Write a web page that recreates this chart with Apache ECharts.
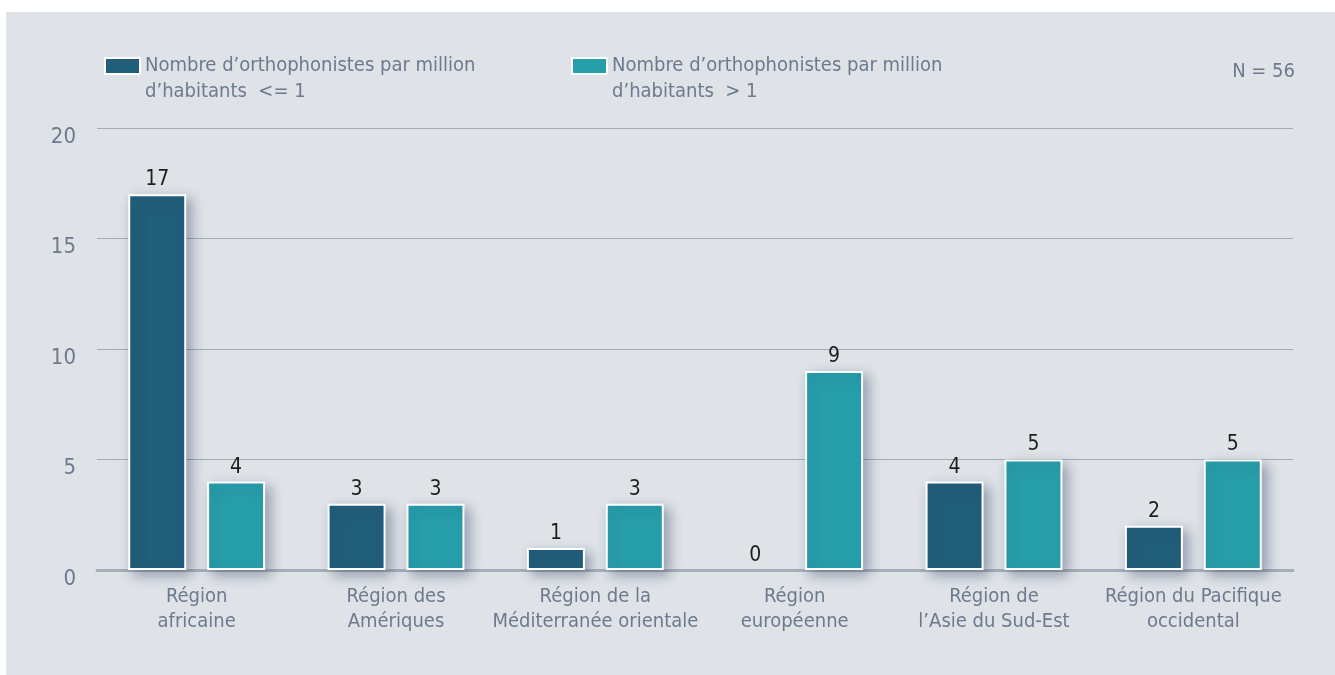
<!DOCTYPE html>
<html>
<head>
<meta charset="utf-8">
<script src="https://cdn.jsdelivr.net/npm/echarts@6/dist/echarts.min.js"></script>
<style>
  html, body { margin: 0; padding: 0; background: #fff; }
  #chart { width: 1335px; height: 675px; }
</style>
</head>
<body>
<div id="chart"></div>
<script>
// regions (x axis)
const regions = [
  'Région\nafricaine',
  'Région des\nAmériques',
  'Région de la\nMéditerranée orientale',
  'Région\neuropéenne',
  'Région de\nl’Asie du Sud-Est',
  'Région du Pacifique\noccidental'
]
// series values
const lowValues = [17, 3, 1, 0, 4, 2]
const highValues = [4, 3, 3, 9, 5, 5]
const seriesNames = [
  'Nombre d’orthophonistes par million\nd’habitants  <= 1',
  'Nombre d’orthophonistes par million\nd’habitants  > 1'
]
const yTicks = [0, 5, 10, 15, 20]
const noteText = 'N = 56'

const font = '"DejaVu Sans Condensed", "Liberation Sans Narrow", sans-serif'
const grayText = '#6d7a8d'
const colors = ['#215e7a', '#279fab']

var myChart = echarts.init(document.getElementById('chart'))

const barStyle = (c) => ({
  color: c,
  borderColor: '#ffffff',
  borderWidth: 2,
  shadowBlur: 12,
  shadowColor: 'rgba(40, 55, 90, 0.4)',
  shadowOffsetX: 5,
  shadowOffsetY: 5
})

// no white outline on empty bars
const toData = (arr) => arr.map(v => v === 0 ? { value: v, itemStyle: { borderWidth: 0, shadowBlur: 0 } } : v)

const valueLabel = {
  show: true,
  position: 'top',
  distance: 4,
  fontFamily: font,
  fontSize: 21,
  color: '#1e1e1e'
}

const legendBase = {
  top: 27,
  padding: 0,
  itemWidth: 35,
  itemHeight: 16,
  icon: 'rect',
  itemStyle: { borderColor: '#ffffff', borderWidth: 2 },
  // blank first line keeps the icon level with the first text line
  formatter: (name) => ' \n' + name,
  textStyle: {
    fontFamily: font,
    fontSize: 20,
    color: grayText,
    lineHeight: 26
  },
  selectedMode: false
}

var option = {
  backgroundColor: '#ffffff',
  animation: false,
  graphic: [
    {
      type: 'rect',
      z: -10,
      shape: { x: 6, y: 12, width: 1335, height: 675 },
      style: { fill: '#dfe3e8' }
    },
    {
      type: 'text',
      right: 40,
      top: 62,
      style: { text: noteText, font: '20px ' + font, fill: grayText }
    }
  ],
  legend: [
    Object.assign({}, legendBase, { left: 104, data: [seriesNames[0]] }),
    Object.assign({}, legendBase, { left: 571, data: [seriesNames[1]] })
  ],
  grid: {
    left: 97,
    right: 42,
    top: 128,
    bottom: 105
  },
  xAxis: {
    type: 'category',
    data: regions,
    axisLine: { lineStyle: { color: '#a7b0ba', width: 3 } },
    axisTick: { show: false },
    axisLabel: {
      fontFamily: font,
      fontSize: 20,
      color: grayText,
      lineHeight: 25,
      margin: 14,
      interval: 0
    }
  },
  yAxis: {
    type: 'value',
    min: yTicks[0],
    max: yTicks[yTicks.length - 1],
    interval: 5,
    axisLine: { show: false },
    axisTick: { show: false },
    splitLine: { lineStyle: { color: '#a3acb6', width: 1 } },
    axisLabel: {
      fontFamily: font,
      fontSize: 22,
      color: grayText,
      margin: 21,
      verticalAlign: 'top',
      padding: [-2, 0, 0, 0]
    }
  },
  series: [
    {
      name: seriesNames[0],
      type: 'bar',
      data: toData(lowValues),
      barWidth: 58,
      barGap: '36%',
      itemStyle: barStyle(colors[0]),
      label: valueLabel
    },
    {
      name: seriesNames[1],
      type: 'bar',
      data: toData(highValues),
      barWidth: 58,
      itemStyle: barStyle(colors[1]),
      label: valueLabel
    }
  ]
}

myChart.setOption(option)

window.onresize = () => {
  myChart.resize()
}
</script>
</body>
</html>
